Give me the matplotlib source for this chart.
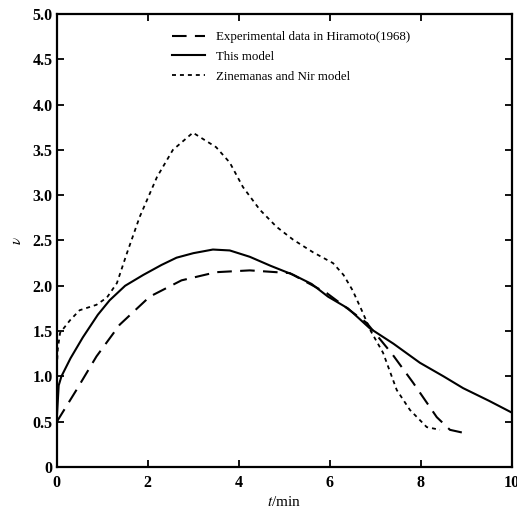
import matplotlib.pyplot as plt

plt.rcParams['font.family'] = ['Liberation Serif', 'DejaVu Serif']
plt.rcParams['mathtext.fontset'] = 'stix'

# Experimental data in Hiramoto(1968)
exp_t = [0, 0.43, 0.87, 1.38, 2.04, 2.74, 3.5, 4.24, 5.12, 5.93, 6.81, 7.38, 7.83, 8.35, 8.64, 9.0]
exp_v = [0.5, 0.85, 1.22, 1.57, 1.88, 2.06, 2.15, 2.17, 2.14, 1.92, 1.59, 1.24, 0.93, 0.55, 0.41, 0.37]

# This model
model_t = [0, 0.04, 0.1, 0.3, 0.57, 0.9, 1.16, 1.5, 1.9, 2.3, 2.63, 3.0, 3.43, 3.8, 4.24,
           4.7, 5.2, 5.6, 5.96, 6.4, 6.88, 7.4, 7.98, 8.5, 8.93, 9.5, 10]
model_v = [0.55, 0.9, 1.0, 1.2, 1.43, 1.68, 1.84, 2.0, 2.12, 2.23, 2.31, 2.36, 2.40, 2.39, 2.32,
           2.22, 2.12, 2.02, 1.88, 1.75, 1.53, 1.36, 1.15, 1.0, 0.87, 0.73, 0.60]

# Zinemanas and Nir model
zn_t = [0, 0.02, 0.07, 0.29, 0.5, 0.87, 1.1, 1.32, 1.54, 1.82, 2.2, 2.55, 2.99, 3.5, 3.8,
        4.09, 4.46, 4.83, 5.19, 5.63, 6.07, 6.3, 6.5, 6.7, 6.9, 7.17, 7.47, 7.76, 8.13, 8.42]
zn_v = [1.1, 1.3, 1.48, 1.62, 1.73, 1.79, 1.87, 2.03, 2.36, 2.76, 3.2, 3.5, 3.69, 3.53, 3.36,
        3.09, 2.84, 2.65, 2.51, 2.37, 2.25, 2.12, 1.95, 1.73, 1.50, 1.26, 0.85, 0.63, 0.44, 0.41]

fig = plt.figure(figsize=(5.17, 5.18), dpi=100)
ax = fig.add_axes([0.110, 0.0985, 0.880, 0.8745])

ax.plot(exp_t, exp_v, color='black', lw=1.5, linestyle=(0, (7, 4)),
        label='Experimental data in Hiramoto(1968)')
ax.plot(model_t, model_v, color='black', lw=1.5, label='This model')
ax.plot(zn_t, zn_v, color='black', lw=1.3, linestyle=(0, (2.2, 2.2)),
        label='Zinemanas and Nir model')

ax.set_xlim(0, 10)
ax.set_ylim(0, 5)
ax.set_xticks([0, 2, 4, 6, 8, 10])
ax.set_yticks([0, 0.5, 1, 1.5, 2, 2.5, 3, 3.5, 4, 4.5, 5])
ax.set_yticklabels(['0', '0.5', '1.0', '1.5', '2.0', '2.5', '3.0', '3.5', '4.0', '4.5', '5.0'])
ax.tick_params(direction='in', top=True, right=True, length=5, width=1.3,
               labelsize=11.5)
ax.tick_params(axis='x', pad=6)
ax.tick_params(axis='y', pad=3)
for lab in ax.get_xticklabels() + ax.get_yticklabels():
    lab.set_fontweight('bold')
for s in ax.spines.values():
    s.set_linewidth(1.6)

ax.set_xlabel(r'$t$/min', fontsize=11, labelpad=3)
ax.set_ylabel(r'$\nu$', fontsize=11, labelpad=6)

ax.legend(loc='upper left', frameon=False, fontsize=9.3, handlelength=2.5,
          handletextpad=0.9, labelspacing=0.6, bbox_to_anchor=(0.228, 0.988))

fig.savefig('out.png', dpi=100)
